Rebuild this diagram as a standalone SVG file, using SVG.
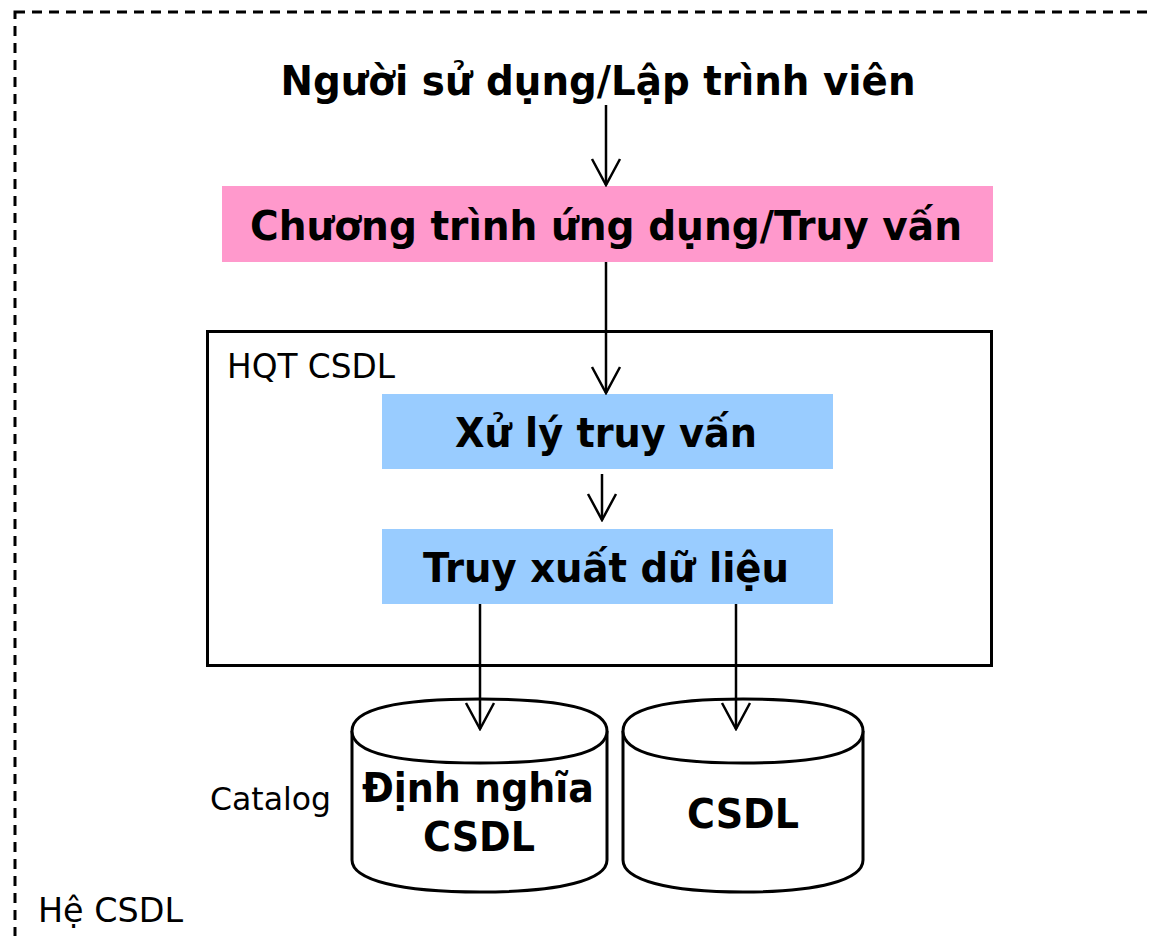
<svg xmlns="http://www.w3.org/2000/svg" width="1149" height="936" viewBox="0 0 1149 936">
<style>
.b{font-family:"DejaVu Sans","Liberation Sans",sans-serif;font-weight:bold;fill:#000;text-anchor:middle}
.r{font-family:"DejaVu Sans","Liberation Sans",sans-serif;fill:#000}
.ln{stroke:#000;stroke-width:2.5;fill:none}
.cyl{stroke:#000;stroke-width:3;fill:#fff}
</style>
<defs>
<marker id="ah" markerUnits="userSpaceOnUse" markerWidth="32" markerHeight="34" viewBox="-30 -17 32 34" refX="0" refY="0" orient="auto">
<path d="M-26,-14 L0,0 L-26,14" fill="none" stroke="#000" stroke-width="2.5"/>
</marker>
</defs>
<rect x="0" y="0" width="1149" height="936" fill="#fff"/>
<g id="he-csdl">
<rect x="15" y="12" width="1160" height="960" fill="none" stroke="#000" stroke-width="3" stroke-dasharray="10 7"/>
<text class="r" x="38" y="922" font-size="33" textLength="145" lengthAdjust="spacingAndGlyphs">Hệ CSDL</text>
</g>
<g id="user">
<text class="b" x="598" y="95" font-size="40" textLength="635" lengthAdjust="spacingAndGlyphs">Người sử dụng/Lập trình viên</text>
</g>
<g id="app">
<rect x="222" y="186" width="771" height="76" fill="#FF99CC"/>
<text class="b" x="606" y="240" font-size="40" textLength="712" lengthAdjust="spacingAndGlyphs">Chương trình ứng dụng/Truy vấn</text>
</g>
<g id="hqt">
<rect x="207.5" y="331.5" width="784" height="334" fill="none" stroke="#000" stroke-width="3"/>
<text class="r" x="227" y="378" font-size="33" textLength="168" lengthAdjust="spacingAndGlyphs">HQT CSDL</text>
</g>
<g id="xuly">
<rect x="382" y="394" width="451" height="75" fill="#99CCFF"/>
<text class="b" x="606" y="447" font-size="40" textLength="302" lengthAdjust="spacingAndGlyphs">Xử lý truy vấn</text>
</g>
<g id="truyxuat">
<rect x="382" y="529" width="451" height="75" fill="#99CCFF"/>
<text class="b" x="606" y="582" font-size="40" textLength="366" lengthAdjust="spacingAndGlyphs">Truy xuất dữ liệu</text>
</g>
<g id="catalog">
<path class="cyl" d="M352,731 C352,708 400,699 480,699 C560,699 607,708 607,731 L607,860 C607,880 560,892 480,892 C400,892 352,880 352,860 Z"/>
<path class="cyl" fill="none" d="M352,731 C352,754 400,763 480,763 C560,763 607,754 607,731"/>
<text class="b" x="478" y="802" font-size="40" textLength="232" lengthAdjust="spacingAndGlyphs">Định nghĩa</text>
<text class="b" x="479" y="851" font-size="40" textLength="112" lengthAdjust="spacingAndGlyphs">CSDL</text>
<text class="r" x="210" y="810" font-size="32" textLength="121" lengthAdjust="spacingAndGlyphs">Catalog</text>
</g>
<g id="csdl">
<path class="cyl" d="M623,731 C623,708 668,699 743,699 C818,699 863,708 863,731 L863,860 C863,880 818,892 743,892 C668,892 623,880 623,860 Z"/>
<path class="cyl" fill="none" d="M623,731 C623,754 668,763 743,763 C818,763 863,754 863,731"/>
<text class="b" x="743" y="828" font-size="40" textLength="112" lengthAdjust="spacingAndGlyphs">CSDL</text>
</g>
<g id="connectors">
<path class="ln" d="M606,105 L606,185" marker-end="url(#ah)"/>
<path class="ln" d="M606,262 L606,393" marker-end="url(#ah)"/>
<path class="ln" d="M602,474 L602,520" marker-end="url(#ah)"/>
<path class="ln" d="M480,604 L480,729" marker-end="url(#ah)"/>
<path class="ln" d="M736,604 L736,729" marker-end="url(#ah)"/>
</g>
</svg>
